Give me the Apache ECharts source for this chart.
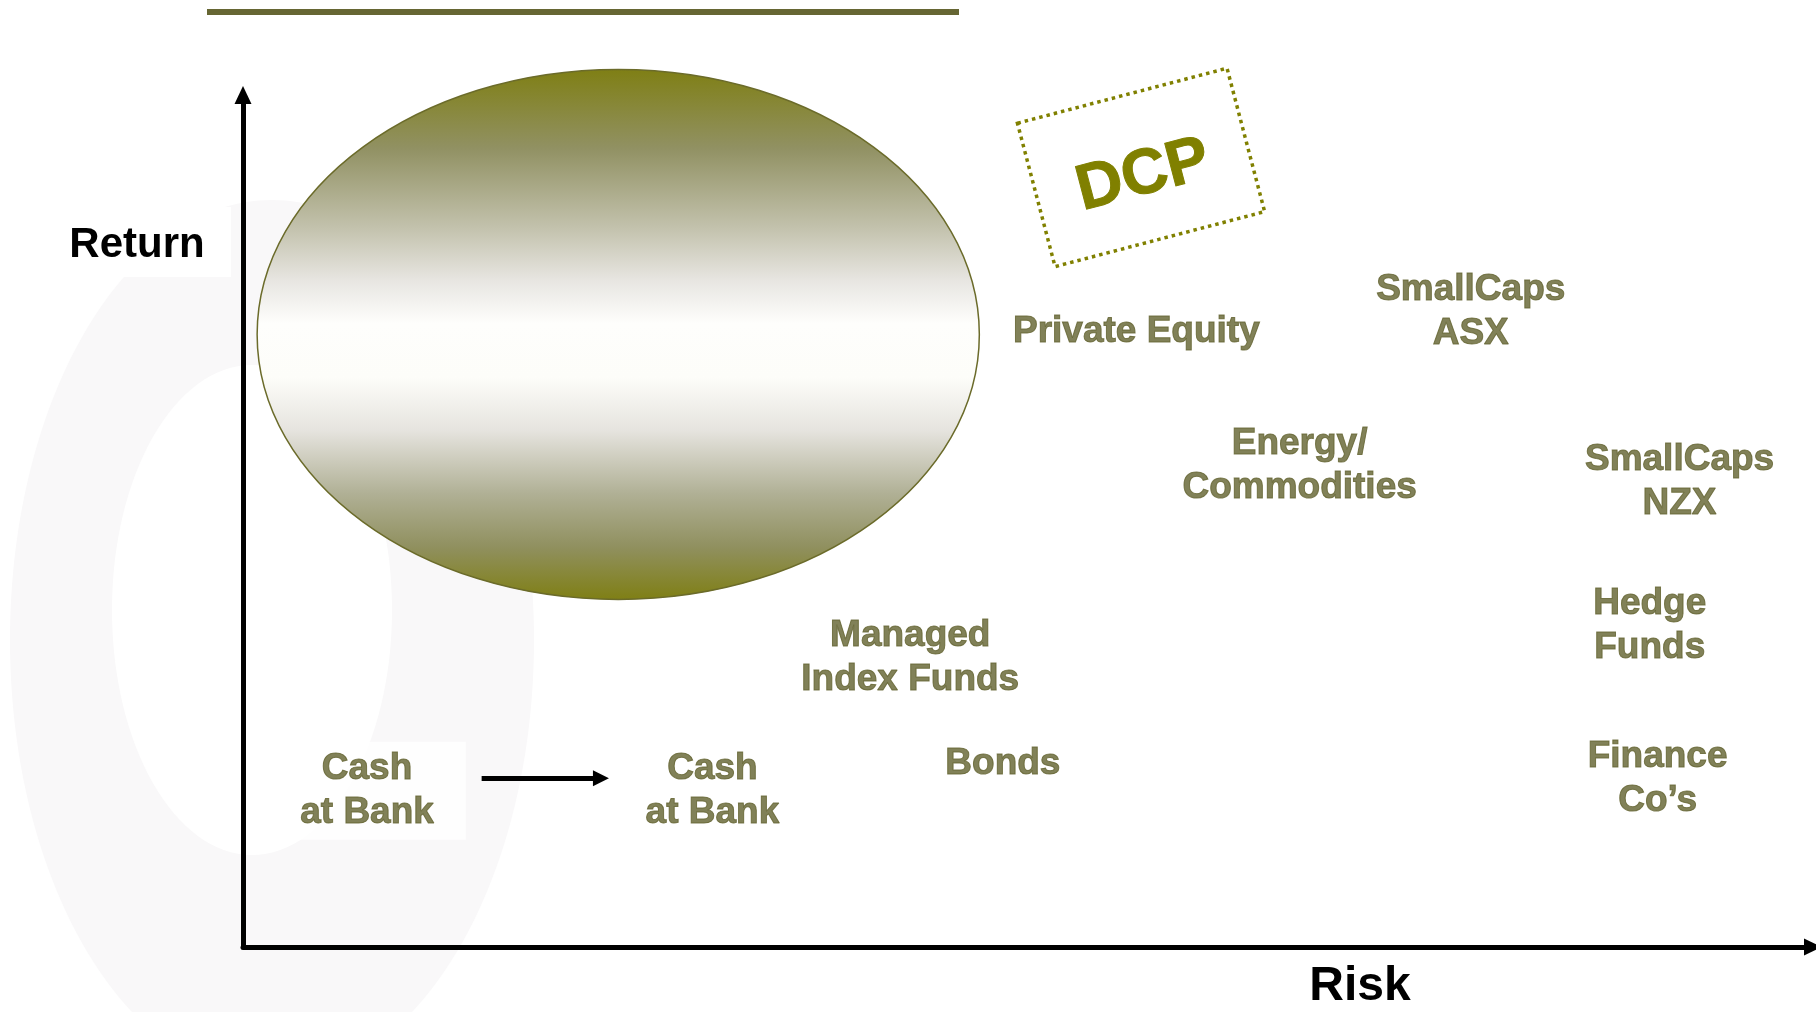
<!DOCTYPE html>
<html>
<head>
<meta charset="utf-8">
<title>Risk / Return</title>
<script src="https://cdn.jsdelivr.net/npm/echarts@6/dist/echarts.min.js"></script>
<style>
  html, body { margin: 0; padding: 0; background: #fff; }
  #chart { width: 1816px; height: 1012px; }
</style>
</head>
<body>
<div id="chart"></div>
<script>
// asset classes placed on the risk / return plane (0-100 scale, no ticks shown)
const assetNames = [
  'Private Equity',
  'SmallCaps\nASX',
  'Energy/\nCommodities',
  'SmallCaps\nNZX',
  'Hedge\nFunds',
  'Managed\nIndex Funds',
  'Bonds',
  'Finance\nCo\u2019s',
  'Cash\nat Bank',
  'Cash\nat Bank'
]
const riskValues = [56.9, 78.2, 67.3, 91.5, 89.6, 42.5, 48.4, 90.1, 29.9, 7.9]
const returnValues = [72.2, 74.6, 56.5, 54.6, 37.7, 34.0, 21.5, 19.8, 18.35, 18.35]

// target zone ellipse: [centerRisk, centerReturn, radiusRisk, radiusReturn]
const zoneEllipse = [23.9, 71.9, 23.0, 31.1]

// DCP stamp: [centerRisk, centerReturn, width, height, angleDeg]
const dcpStamp = [57.2, 91.5, 13.8, 17.4, 14.7]

// move out of cash: from -> to
const cashMove = [[15.2, 19.8], [22.8, 19.8]]

const FONT = '"Liberation Sans", Arial, sans-serif'
const OLIVE_TEXT = '#62622e'
const OLIVE = '#808000'

const chart = echarts.init(document.getElementById('chart'))

const scatterData = assetNames.map((name, i) => {
  const item = { name: name, value: [riskValues[i], returnValues[i]] }
  // the starting "Cash at Bank" sits on a white patch
  if (i === assetNames.length - 1) {
    item.label = { backgroundColor: '#fff', padding: [5, 32] }
  }
  return item
})

const option = {
  backgroundColor: '#fff',
  animation: false,
  grid: { left: 243, right: 3, top: 95, bottom: 65 },
  xAxis: {
    type: 'value',
    min: 0,
    max: 100,
    axisLine: {
      show: true,
      onZero: false,
      symbol: ['none', 'triangle'],
      symbolSize: [17, 18],
      lineStyle: { color: '#000', width: 5 }
    },
    axisTick: { show: false },
    axisLabel: { show: false },
    splitLine: { show: false }
  },
  yAxis: {
    type: 'value',
    min: 0,
    max: 100,
    axisLine: {
      show: true,
      onZero: false,
      symbol: ['none', 'triangle'],
      symbolSize: [17, 18],
      lineStyle: { color: '#000', width: 5 }
    },
    axisTick: { show: false },
    axisLabel: { show: false },
    splitLine: { show: false }
  },
  graphic: [
    // faint watermark behind the plot
    {
      type: 'ellipse',
      z: -20,
      shape: { cx: 272, cy: 640, rx: 262, ry: 440 },
      style: { fill: '#f9f8f9' },
      silent: true
    },
    {
      type: 'ellipse',
      z: -19,
      shape: { cx: 252, cy: 610, rx: 140, ry: 245 },
      style: { fill: '#fff' },
      silent: true
    },
    // heading rule
    {
      type: 'line',
      shape: { x1: 207, y1: 12, x2: 959, y2: 12 },
      style: { stroke: '#666633', lineWidth: 6 }
    },
    {
      type: 'rect',
      shape: { x: 43, y: 207, width: 188, height: 70 },
      style: { fill: '#fff' }
    },
    {
      type: 'text',
      x: 137,
      y: 245,
      style: {
        text: 'Return',
        align: 'center',
        verticalAlign: 'middle',
        font: 'bold 42px ' + FONT,
        fill: '#000'
      }
    },
    {
      type: 'text',
      x: 1360,
      y: 987,
      style: {
        text: 'Risk',
        align: 'center',
        verticalAlign: 'middle',
        font: 'bold 48px ' + FONT,
        fill: '#000'
      }
    }
  ],
  series: [
    {
      type: 'custom',
      name: 'zone',
      z: 1,
      data: [zoneEllipse],
      renderItem: function(params, api) {
        const c = api.coord([api.value(0), api.value(1)])
        const s = api.size([api.value(2), api.value(3)])
        return {
          type: 'ellipse',
          shape: { cx: c[0], cy: c[1], rx: s[0], ry: s[1] },
          style: {
            fill: new echarts.graphic.LinearGradient(0, 0, 0, 1, [
              { offset: 0, color: '#7f7f14' },
              { offset: 0.15, color: '#919163' },
              { offset: 0.3, color: '#c3c2ad' },
              { offset: 0.4, color: '#e8e6e2' },
              { offset: 0.48, color: '#fefefc' },
              { offset: 0.58, color: '#fdfdf9' },
              { offset: 0.68, color: '#e6e4df' },
              { offset: 0.8, color: '#b0b095' },
              { offset: 0.9, color: '#90905f' },
              { offset: 1, color: '#7f7f14' }
            ]),
            stroke: '#6b6b2a',
            lineWidth: 1.5
          }
        }
      }
    },
    {
      type: 'custom',
      name: 'DCP',
      z: 3,
      data: [dcpStamp],
      renderItem: function(params, api) {
        const c = api.coord([api.value(0), api.value(1)])
        const s = api.size([api.value(2), api.value(3)])
        const w = s[0]
        const h = s[1]
        return {
          type: 'group',
          x: c[0],
          y: c[1],
          rotation: api.value(4) * Math.PI / 180,
          children: [
            {
              type: 'rect',
              shape: { x: -w / 2, y: -h / 2, width: w, height: h },
              style: {
                fill: 'none',
                stroke: OLIVE,
                lineWidth: 3.5,
                lineDash: [3.5, 4]
              }
            },
            {
              type: 'text',
              x: 0,
              y: 9,
              style: {
                text: 'DCP',
                align: 'center',
                verticalAlign: 'middle',
                font: 'bold 64px ' + FONT,
                fill: OLIVE,
                stroke: OLIVE,
                lineWidth: 1
              }
            }
          ]
        }
      }
    },
    {
      type: 'lines',
      coordinateSystem: 'cartesian2d',
      z: 3,
      symbol: ['none', 'triangle'],
      symbolSize: [17, 16],
      lineStyle: { color: '#000', width: 5, opacity: 1 },
      data: [{ coords: cashMove }]
    },
    {
      type: 'scatter',
      z: 4,
      symbolSize: 1,
      itemStyle: { color: 'rgba(0,0,0,0)' },
      label: {
        show: true,
        position: 'inside',
        formatter: '{b}',
        align: 'center',
        verticalAlign: 'middle',
        fontFamily: FONT,
        fontWeight: 'bold',
        fontSize: 37,
        lineHeight: 44,
        color: OLIVE_TEXT,
        textBorderColor: OLIVE_TEXT,
        textBorderWidth: 1
      },
      emphasis: { disabled: true },
      data: scatterData
    }
  ]
}

chart.setOption(option)
</script>
</body>
</html>
